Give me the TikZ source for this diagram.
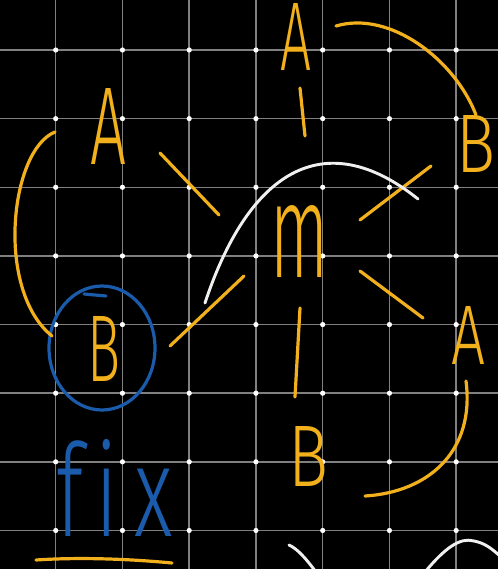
\documentclass[tikz,border=0pt]{standalone}
\usepackage{fontspec}
\usepackage{graphicx}
\newfontfamily\hand{Fira Sans Light}
\newlength\px \setlength\px{0.75pt}
\newcommand\hw[3]{\resizebox{#1\px}{#2\px}{\hand #3}}
\definecolor{ink}{HTML}{F2B11C}
\definecolor{pen}{HTML}{1A5CAB}
\definecolor{gridc}{HTML}{808080}
\begin{document}
\begin{tikzpicture}[x=0.75pt,y=-0.75pt,
  gridline/.style={gridc,line width=1.1pt},
  letter/.style={inner sep=0pt,outer sep=0pt,anchor=south west,text=ink},
  stroke/.style={ink,line width=2.4pt,line cap=round},
  chalk/.style={white!94!black,line width=2.2pt,line cap=round}]
\useasboundingbox (0,0) rectangle (498,569);
\fill[black] (0,0) rectangle (498,569);
\begin{scope}
\clip (0,0) rectangle (498,569);
% grid
\foreach \i in {0,...,6} \draw[gridline] ({55.7+66.75*\i},0) -- ({55.7+66.75*\i},569);
\foreach \j in {0,...,7} \draw[gridline] (0,{50+68.64*\j}) -- (498,{50+68.64*\j});
\foreach \i in {0,...,6} \foreach \j in {0,...,7}
  \fill[white] ({55.7+66.75*\i},{50+68.64*\j}) circle (2.6);
% letters
\node[letter] (topA) at (280,70) {\hw{31}{67}{A}};
\node[letter] (leftA) at (90,164) {\hw{36}{76}{A}};
\node[letter] (rightB) at (456,172) {\hw{39}{57}{B}};
\node[letter] (m) at (270,277) {\hw{58}{72}{m}};
\node[letter] (circB) at (87,381) {\hw{33}{65}{B}};
\node[letter] (rightA) at (451,364) {\hw{34}{58}{A}};
\node[letter] (botB) at (288,486) {\hw{40}{60}{B}};
\node[letter,text=pen] (fix) at (56,536) {\hw{117}{97}{f\kern0.15em i\kern0.2em x}};
% blue circle
\draw[pen,line width=2.4pt] (102,348) ellipse [x radius=53,y radius=62];
\draw[pen,line width=2.4pt,line cap=round] (84,294) -- (106,296);
% connector end points
\coordinate (t1) at (300,88);  \coordinate (t2) at (305,136);
\coordinate (l1) at (160,153); \coordinate (l2) at (219,215);
\coordinate (r1) at (360,220); \coordinate (r2) at (431,166);
\coordinate (s1) at (360,271); \coordinate (s2) at (423,318);
\coordinate (b1) at (300,308); \coordinate (b2) at (295,397);
\coordinate (c1) at (244,276); \coordinate (c2) at (170,346);
\coordinate (a1) at (55,132);  \coordinate (a2) at (52,336);
\coordinate (e1) at (336,26);  \coordinate (e2) at (476,115);
\coordinate (f1) at (466,381); \coordinate (f2) at (365,496);
\coordinate (u1) at (36,560);  \coordinate (u2) at (172,563);
% connectors
\draw[stroke] (t1) -- (t2);
\draw[stroke] (l1) -- (l2);
\draw[stroke] (r1) -- (r2);
\draw[stroke] (s1) -- (s2);
\draw[stroke] (b1) -- (b2);
\draw[stroke] (c1) -- (c2);
\draw[stroke] (a1) .. controls (10,150) and (-5,290) .. (a2);
\draw[stroke] (e1) .. controls (390,10) and (455,60) .. (e2);
\draw[stroke] (f1) .. controls (475,450) and (430,492) .. (f2);
\draw[stroke] (u1) .. controls (80,557) and (130,559) .. (u2);
% white strokes
\coordinate (w1) at (205,303); \coordinate (w2) at (418,199);
\draw[chalk] (w1) .. controls (248,173) and (323,123) .. (w2);
\coordinate (x1) at (289,545); \coordinate (x2) at (316,572);
\draw[chalk] (x1) .. controls (298,549) and (307,560) .. (x2);
\coordinate (y1) at (425,572); \coordinate (y2) at (500,556);
\draw[chalk] (y1) .. controls (445,548) and (460,537) .. (474,541) .. controls (485,543) and (492,549) .. (y2);
\end{scope}
\end{tikzpicture}
\end{document}
